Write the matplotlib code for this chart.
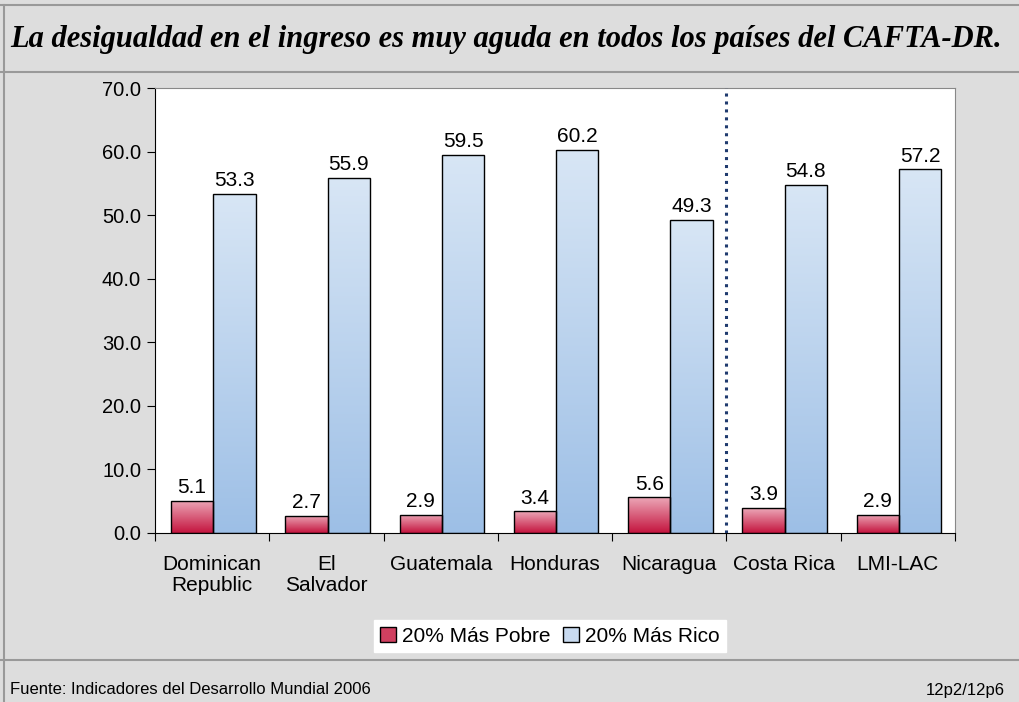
import matplotlib.pyplot as plt
import numpy as np
from matplotlib.colors import LinearSegmentedColormap
from matplotlib.patches import Patch

paises = ['Dominican\nRepublic', 'El\nSalvador', 'Guatemala', 'Honduras',
          'Nicaragua', 'Costa Rica', 'LMI-LAC']
pobre = [5.1, 2.7, 2.9, 3.4, 5.6, 3.9, 2.9]
rico = [53.3, 55.9, 59.5, 60.2, 49.3, 54.8, 57.2]
yticks = [0, 10, 20, 30, 40, 50, 60, 70]

fondo = '#DDDDDD'
rojo = LinearSegmentedColormap.from_list('rojo', ['#C4143E', '#ECA8B8'])
azul = LinearSegmentedColormap.from_list('azul', ['#9DBFE6', '#D8E6F5'])

fig = plt.figure(figsize=(10.19, 7.02), dpi=100, facecolor=fondo)
ax = fig.add_axes([155/1019, 1 - 533/702, 800/1019, 445/702])
ax.set_facecolor('white')

x = np.arange(len(paises))
w = 0.37
off = 0.01


def barras_gradiente(bars, cmap):
    grad = np.linspace(0, 1, 256).reshape(-1, 1)
    for b in bars:
        x0, y0 = b.get_x(), b.get_y()
        x1, y1 = x0 + b.get_width(), y0 + b.get_height()
        im = ax.imshow(grad, cmap=cmap, aspect='auto', origin='lower',
                       extent=[x0, x1, y0, y1], zorder=2)
        im.set_clip_path(b)


b1 = ax.bar(x + off - w/2, pobre, w, facecolor='none', edgecolor='black', lw=1, zorder=3)
b2 = ax.bar(x + off + w/2, rico, w, facecolor='none', edgecolor='black', lw=1, zorder=3)
barras_gradiente(b1, rojo)
barras_gradiente(b2, azul)

for xi, v in zip(x, pobre):
    ax.text(xi + off - w/2, v + 0.6, f'{v:.1f}', ha='center', va='bottom', fontsize=15,
            family='Liberation Sans')
for xi, v in zip(x, rico):
    ax.text(xi + off + w/2, v + 0.6, f'{v:.1f}', ha='center', va='bottom', fontsize=15,
            family='Liberation Sans')

ax.axvline(4.5, color='#1F3A6E', ls=(0, (1, 1.6)), lw=2.2, zorder=4)

ax.set_xlim(-0.5, len(paises) - 0.5)
ax.set_ylim(0, 70)
ax.set_autoscale_on(False)
ax.set_yticks(yticks)
ax.set_yticklabels([f'{t:.1f}' for t in yticks], fontsize=14.5, family='Liberation Sans')
ax.set_xticks(np.arange(-0.5, len(paises)), labels=[])
ax.set_xticks(x, labels=paises, minor=True)
ax.tick_params(axis='x', which='minor', length=0, pad=16, labelsize=15)
ax.tick_params(axis='x', which='major', length=6, direction='out', color='black')
ax.tick_params(axis='y', length=6, direction='out', pad=4)
for lab in ax.get_xticklabels(minor=True):
    lab.set_family('Liberation Sans')
    lab.set_linespacing(1.15)

ax.spines['left'].set_color('black')
ax.spines['bottom'].set_color('black')
ax.spines['top'].set_color('#888888')
ax.spines['right'].set_color('#888888')

leg = fig.legend(handles=[Patch(facecolor='#D04060', edgecolor='black', label='20% Más Pobre'),
                          Patch(facecolor='#C8DAF0', edgecolor='black', label='20% Más Rico')],
                 loc='center', bbox_to_anchor=(550/1019, 1 - 636/702), ncol=2,
                 frameon=True, fancybox=False, edgecolor='white', facecolor='white',
                 framealpha=1, prop={'family': 'Liberation Sans', 'size': 15},
                 handlelength=0.75, handleheight=0.75, handletextpad=0.3,
                 columnspacing=0.6, borderpad=0.3, borderaxespad=0)

fig.text(10/1019, 1 - 40/702, 'La desigualdad en el ingreso es muy aguda en todos los países del CAFTA-DR.',
         family='Liberation Serif', style='italic', weight='bold', fontsize=22,
         va='center', ha='left')
fig.text(10/1019, 1 - 690/702, 'Fuente: Indicadores del Desarrollo Mundial 2006',
         family='Liberation Sans', fontsize=12, va='center', ha='left')
fig.text(1005/1019, 1 - 690/702, '12p2/12p6',
         family='Liberation Sans', fontsize=12, va='center', ha='right')

for yy in [5, 72, 660]:
    fig.add_artist(plt.Line2D([0, 1], [1 - yy/702, 1 - yy/702], color='#999999', lw=1.5))
fig.add_artist(plt.Line2D([4/1019, 4/1019], [0, 1 - 5/702], color='#999999', lw=1.5))

fig.savefig('out.png', dpi=100, facecolor=fondo)
